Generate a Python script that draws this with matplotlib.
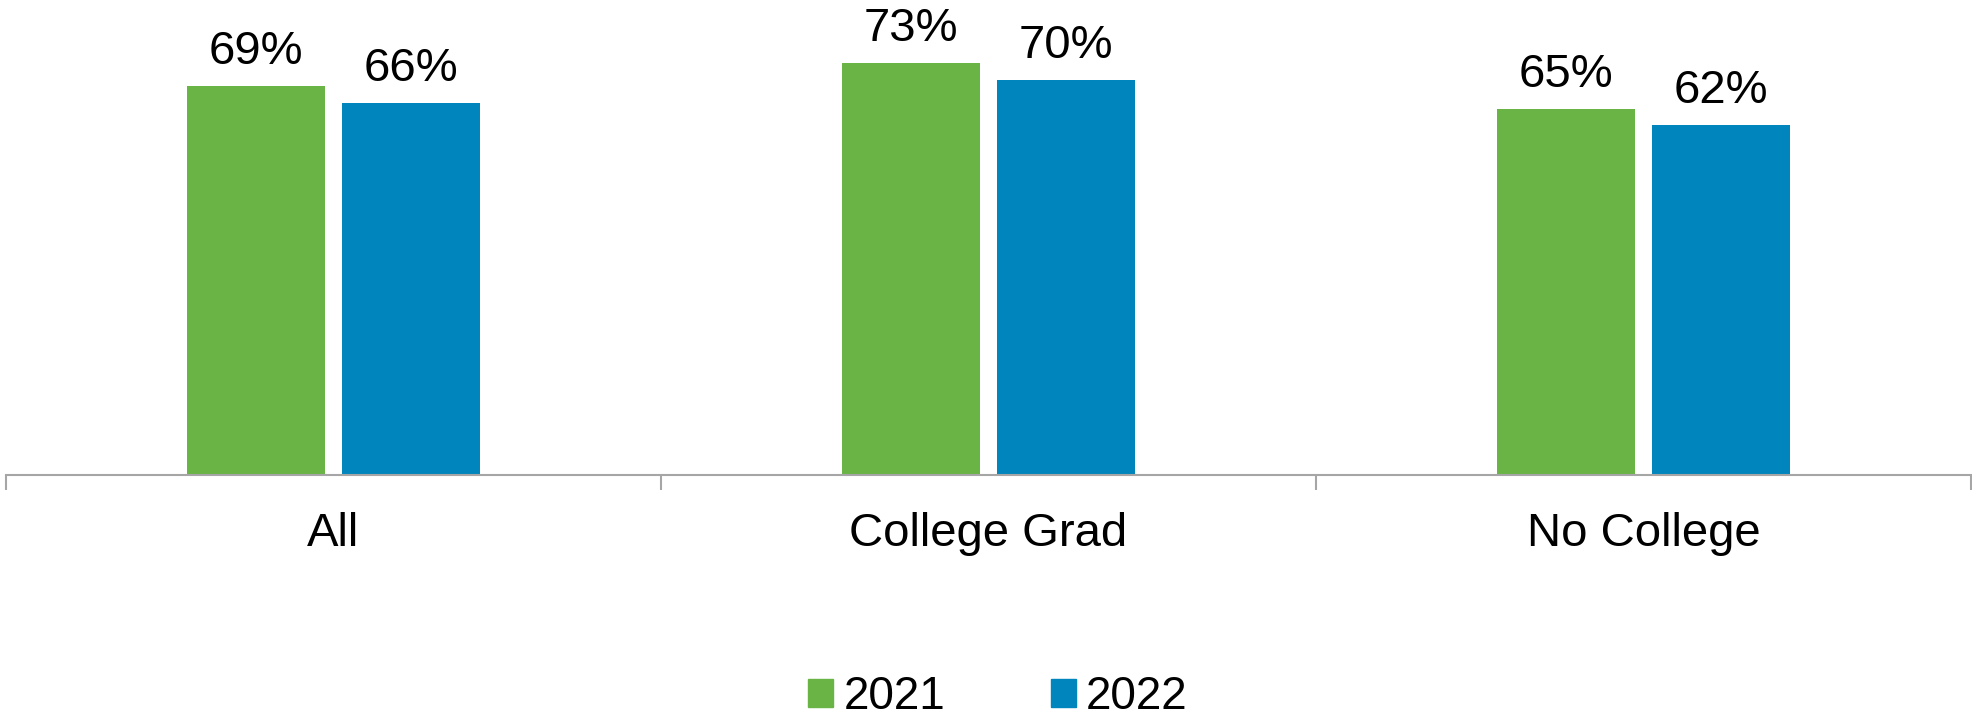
import numpy as np
import matplotlib.pyplot as plt
from matplotlib.patches import Patch

plt.rcParams['font.family'] = ['Liberation Sans', 'DejaVu Sans']

# 数据
categories = ["All", "College Grad", "No College"]
years = ["2021", "2022"]
vals_2021 = [69, 73, 65]
vals_2022 = [66, 70, 62]
colors = ["#6ab446", "#0085bd"]

W, H = 1972, 721
fig = plt.figure(figsize=(W / 100, H / 100), dpi=100)
# 坐标轴位置按像素换算
ax = fig.add_axes([6 / W, 1 - 475 / H, 1965 / W, (475 - 24) / H])

x = np.arange(len(categories))
w = 0.21
off = 0.118
b1 = ax.bar(x - off, vals_2021, w, color=colors[0])
b2 = ax.bar(x + off, vals_2022, w, color=colors[1])

# 柱顶数值
for bars in (b1, b2):
    for b in bars:
        ax.text(b.get_x() + b.get_width() / 2, b.get_height() + 3.9,
                "%d%%" % b.get_height(), ha="center", va="baseline", fontsize=34)

ax.set_xlim(-0.5, 2.5)
ax.set_ylim(0, 80)
ax.set_yticks([])
for s in ["top", "right", "left"]:
    ax.spines[s].set_visible(False)
ax.spines["bottom"].set_color("#a6a6a6")
ax.spines["bottom"].set_linewidth(1.5)

ax.set_xticks(x)
ax.set_xticklabels(categories, fontsize=34)
ax.set_xticks([-0.5, 0.5, 1.5, 2.5], minor=True)
ax.tick_params(axis="x", which="major", length=0, pad=27)
ax.tick_params(axis="x", which="minor", length=11, width=1.5, color="#a6a6a6")

handles = [Patch(color=c) for c in colors]
fig.legend(handles, years, loc="center", bbox_to_anchor=(0.506, 1 - 697 / H),
           ncol=2, frameon=False, fontsize=33, handlelength=0.55, handleheight=0.55,
           handletextpad=0.22, columnspacing=2.3, borderpad=0)

fig.savefig("out.png", dpi=100)
